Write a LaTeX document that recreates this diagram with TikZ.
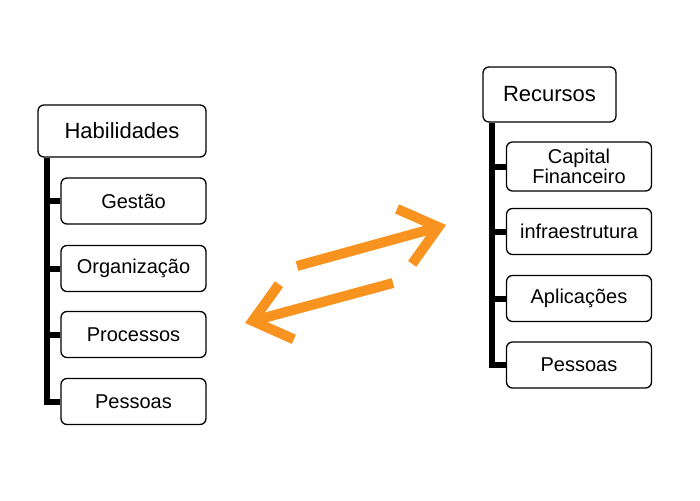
\documentclass[tikz,border=0pt]{standalone}
\usepackage{xcolor}
\usepackage{fontspec}
\setmainfont{Liberation Sans}
\usetikzlibrary{arrows.meta,positioning}

\definecolor{troca}{RGB}{247,147,30}

\tikzset{
  topo/.style={draw,line width=1.3pt,rounded corners=6pt,font=\fontsize{22}{24}\selectfont},
  item/.style={draw,line width=1.3pt,rounded corners=6pt,minimum width=145,minimum height=46,
    align=center,font=\fontsize{20}{20.5}\selectfont},
  tronco/.style={line width=6pt},
  seta/.style={troca,line width=10pt,-{Straight Barb[length=35pt,width=57pt,sharp]}}
}

\begin{document}
\begin{tikzpicture}[x=1pt,y=1pt,yscale=-1]
\useasboundingbox (0,0) rectangle (700,500);

% Text Node
\node[topo,minimum width=168,minimum height=52] (hab) at (122,131) {Habilidades};
\node[item] (gestao) at (133.5,201) {Gestão};
\node[item] (organizacao) at (133.5,268.5) {Organização};
\node[item] (processos) at (133.5,334.5) {Processos};
\node[item] (pessoasA) at (133.5,401.5) {Pessoas};

% Text Node
\node[topo,minimum width=133,minimum height=55] (rec) at (549.5,94.5) {Recursos};
\node[item,minimum height=49,inner sep=2pt] (capital) at (579,166.5) {Capital\\Financeiro};
\node[item] (infra) at (579,231.5) {infraestrutura};
\node[item] (aplic) at (579,298.5) {Aplicações};
\node[item] (pessoasB) at (579,365) {Pessoas};

%Straight Lines
\coordinate (barA) at ([xshift=10]hab.south west);
\draw[tronco] (barA) |- (pessoasA.west);
\foreach \n in {gestao,organizacao,processos}
  \draw[tronco] (barA |- \n.west) -- (\n.west);

%Straight Lines
\coordinate (barB) at ([xshift=10]rec.south west);
\draw[tronco] (barB) |- (pessoasB.west);
\foreach \n in {capital,infra,aplic}
  \draw[tronco] (barB |- \n.west) -- (\n.west);

%Curve Lines
\coordinate (idaA) at (297,266);
\coordinate (idaB) at (446,225);
\coordinate (voltaA) at (393,283);
\coordinate (voltaB) at (245,323);
\draw[seta] (idaA) -- (idaB);
\draw[seta] (voltaA) -- (voltaB);

\end{tikzpicture}
\end{document}
